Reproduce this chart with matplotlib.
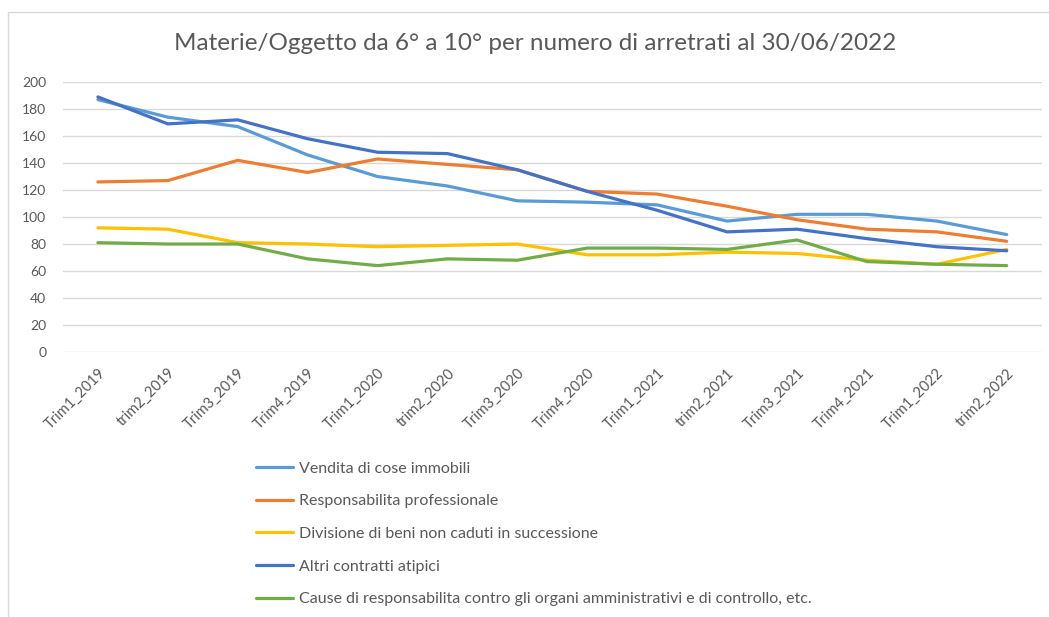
import matplotlib.pyplot as plt
from matplotlib.patches import Rectangle

plt.rcParams['font.family'] = ['Lato', 'DejaVu Sans']

# quarters
periodi = ["Trim1_2019", "trim2_2019", "Trim3_2019", "Trim4_2019",
           "Trim1_2020", "trim2_2020", "Trim3_2020", "Trim4_2020",
           "Trim1_2021", "trim2_2021", "Trim3_2021", "Trim4_2021",
           "Trim1_2022", "trim2_2022"]

vendita = [187, 174, 167, 146, 130, 123, 112, 111, 109, 97, 102, 102, 97, 87]
responsabilita = [126, 127, 142, 133, 143, 139, 135, 119, 117, 108, 98, 91, 89, 82]
divisione = [92, 91, 81, 80, 78, 79, 80, 72, 72, 74, 73, 68, 65, 76]
altri = [189, 169, 172, 158, 148, 147, 135, 119, 105, 89, 91, 84, 78, 75]
cause = [81, 80, 80, 69, 64, 69, 68, 77, 77, 76, 83, 67, 65, 64]

serie = [
    ("Vendita di cose immobili", vendita, "#5B9BD5"),
    ("Responsabilita professionale", responsabilita, "#ED7D31"),
    ("Divisione di beni non caduti in successione", divisione, "#FFC000"),
    ("Altri contratti atipici", altri, "#4472C4"),
    ("Cause di responsabilita contro gli organi amministrativi e di controllo, etc.", cause, "#70AD47"),
]

grigio = "#595959"

fig = plt.figure(figsize=(10.49, 6.17), dpi=100)
ax = fig.add_axes([0.060, 0.4295, 0.933, 0.4375])

x = list(range(len(periodi)))
for nome, valori, colore in serie:
    ax.plot(x, valori, color=colore, linewidth=2.3, label=nome,
            solid_capstyle='round', solid_joinstyle='round')

ax.set_xlim(-0.5, len(periodi) - 0.5)
ax.set_ylim(0, 200)
ax.set_yticks(range(0, 201, 20))
ax.grid(axis='y', color="#D9D9D9", linewidth=1)
ax.set_axisbelow(True)
for s in ax.spines.values():
    s.set_visible(False)
ax.tick_params(axis='both', length=0, colors=grigio, labelsize=10)
ax.tick_params(axis='y', pad=12)
ax.set_xticks(x)
ax.set_xticklabels(periodi, rotation=45, ha='right', rotation_mode='anchor', fontsize=10.5)
ax.tick_params(axis='x', pad=10)

fig.text(0.51, 0.93, "Materie/Oggetto da 6° a 10° per numero di arretrati al 30/06/2022",
         ha='center', va='center', fontsize=17.5, color=grigio)

leg = fig.legend(loc='upper left', frameon=False,
                 fontsize=11.5, handlelength=2.3, handletextpad=0.4, labelspacing=1.15,
                 borderaxespad=0)
for t in leg.get_texts():
    t.set_color(grigio)
for h in leg.get_lines():
    h.set_linewidth(2.3)
leg.set_bbox_to_anchor((0.238, 0.262), transform=fig.transFigure)

# chart border
fig.patches.append(Rectangle((8 / 1049, -0.1), 1.2, 1.1 - 12 / 617,
                             transform=fig.transFigure, fill=False,
                             edgecolor="#D9D9D9", linewidth=1))

fig.savefig("out.png", dpi=100)
